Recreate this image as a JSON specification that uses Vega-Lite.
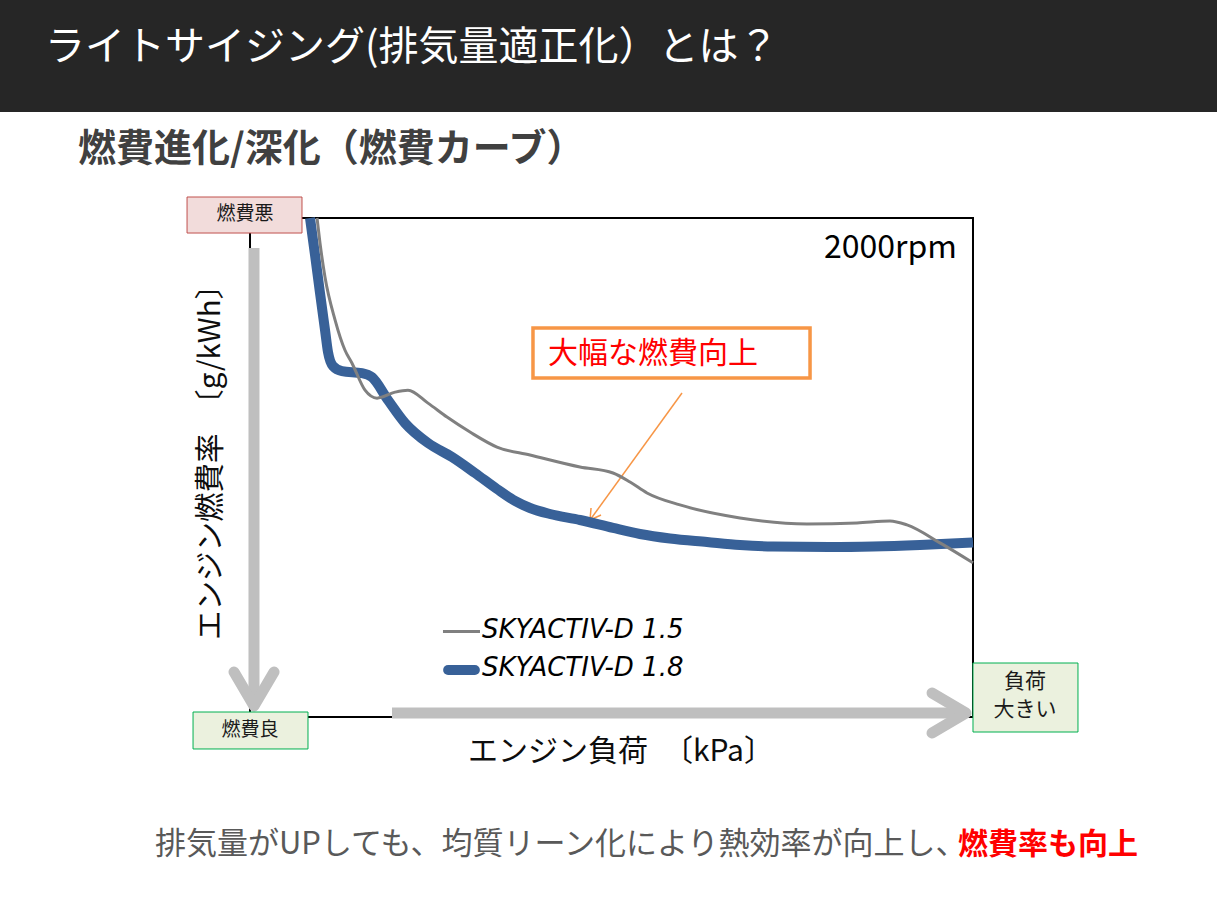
{
  "$schema": "https://vega.github.io/schema/vega-lite/v6.json",
  "width": 1217,
  "height": 912,
  "autosize": {"type": "fit", "contains": "padding"},
  "padding": 0,
  "background": "#ffffff",
  "config": {"view": {"stroke": null}, "font": "Noto Sans CJK JP"},
  "datasets": {
    "curves": [
      {"series": "SKYACTIV-D 1.8", "load": 8.30, "bsfc": 100.0},
      {"series": "SKYACTIV-D 1.8", "load": 8.99, "bsfc": 92.6},
      {"series": "SKYACTIV-D 1.8", "load": 9.68, "bsfc": 85.0},
      {"series": "SKYACTIV-D 1.8", "load": 10.37, "bsfc": 77.6},
      {"series": "SKYACTIV-D 1.8", "load": 10.79, "bsfc": 73.1},
      {"series": "SKYACTIV-D 1.8", "load": 11.48, "bsfc": 70.3},
      {"series": "SKYACTIV-D 1.8", "load": 12.72, "bsfc": 69.3},
      {"series": "SKYACTIV-D 1.8", "load": 15.49, "bsfc": 68.9},
      {"series": "SKYACTIV-D 1.8", "load": 16.87, "bsfc": 68.1},
      {"series": "SKYACTIV-D 1.8", "load": 19.09, "bsfc": 63.5},
      {"series": "SKYACTIV-D 1.8", "load": 21.44, "bsfc": 58.9},
      {"series": "SKYACTIV-D 1.8", "load": 24.62, "bsfc": 54.9},
      {"series": "SKYACTIV-D 1.8", "load": 27.94, "bsfc": 52.1},
      {"series": "SKYACTIV-D 1.8", "load": 31.12, "bsfc": 48.9},
      {"series": "SKYACTIV-D 1.8", "load": 34.16, "bsfc": 45.69},
      {"series": "SKYACTIV-D 1.8", "load": 36.65, "bsfc": 43.29},
      {"series": "SKYACTIV-D 1.8", "load": 38.73, "bsfc": 41.88},
      {"series": "SKYACTIV-D 1.8", "load": 41.49, "bsfc": 40.68},
      {"series": "SKYACTIV-D 1.8", "load": 45.64, "bsfc": 39.48},
      {"series": "SKYACTIV-D 1.8", "load": 50.21, "bsfc": 37.88},
      {"series": "SKYACTIV-D 1.8", "load": 53.94, "bsfc": 36.67},
      {"series": "SKYACTIV-D 1.8", "load": 58.09, "bsfc": 35.77},
      {"series": "SKYACTIV-D 1.8", "load": 63.21, "bsfc": 35.07},
      {"series": "SKYACTIV-D 1.8", "load": 67.77, "bsfc": 34.47},
      {"series": "SKYACTIV-D 1.8", "load": 72.34, "bsfc": 34.17},
      {"series": "SKYACTIV-D 1.8", "load": 80.22, "bsfc": 34.07},
      {"series": "SKYACTIV-D 1.8", "load": 86.17, "bsfc": 34.17},
      {"series": "SKYACTIV-D 1.8", "load": 92.67, "bsfc": 34.47},
      {"series": "SKYACTIV-D 1.8", "load": 100.0, "bsfc": 34.97},
      {"series": "SKYACTIV-D 1.5", "load": 9.27, "bsfc": 100.0},
      {"series": "SKYACTIV-D 1.5", "load": 9.68, "bsfc": 95.0},
      {"series": "SKYACTIV-D 1.5", "load": 10.37, "bsfc": 88.2},
      {"series": "SKYACTIV-D 1.5", "load": 11.76, "bsfc": 79.6},
      {"series": "SKYACTIV-D 1.5", "load": 13.14, "bsfc": 73.5},
      {"series": "SKYACTIV-D 1.5", "load": 14.11, "bsfc": 70.9},
      {"series": "SKYACTIV-D 1.5", "load": 15.91, "bsfc": 65.5},
      {"series": "SKYACTIV-D 1.5", "load": 17.57, "bsfc": 63.9},
      {"series": "SKYACTIV-D 1.5", "load": 20.06, "bsfc": 65.1},
      {"series": "SKYACTIV-D 1.5", "load": 21.85, "bsfc": 65.5},
      {"series": "SKYACTIV-D 1.5", "load": 24.62, "bsfc": 62.9},
      {"series": "SKYACTIV-D 1.5", "load": 27.25, "bsfc": 60.1},
      {"series": "SKYACTIV-D 1.5", "load": 30.43, "bsfc": 57.1},
      {"series": "SKYACTIV-D 1.5", "load": 34.16, "bsfc": 54.1},
      {"series": "SKYACTIV-D 1.5", "load": 38.73, "bsfc": 52.5},
      {"series": "SKYACTIV-D 1.5", "load": 45.64, "bsfc": 50.1},
      {"series": "SKYACTIV-D 1.5", "load": 50.21, "bsfc": 48.9},
      {"series": "SKYACTIV-D 1.5", "load": 52.56, "bsfc": 47.1},
      {"series": "SKYACTIV-D 1.5", "load": 54.91, "bsfc": 44.9},
      {"series": "SKYACTIV-D 1.5", "load": 59.47, "bsfc": 42.5},
      {"series": "SKYACTIV-D 1.5", "load": 67.77, "bsfc": 39.9},
      {"series": "SKYACTIV-D 1.5", "load": 77.04, "bsfc": 38.7},
      {"series": "SKYACTIV-D 1.5", "load": 83.96, "bsfc": 38.9},
      {"series": "SKYACTIV-D 1.5", "load": 88.52, "bsfc": 39.3},
      {"series": "SKYACTIV-D 1.5", "load": 90.87, "bsfc": 38.5},
      {"series": "SKYACTIV-D 1.5", "load": 95.44, "bsfc": 34.9},
      {"series": "SKYACTIV-D 1.5", "load": 100.0, "bsfc": 30.9}
    ]
  },
  "layer": [
    {
      "data": {"values": [{"x": -34.58, "x2": 133.75, "y": 121.24, "y2": 143.69}]},
      "mark": {"type": "rect", "color": "#262626"},
      "encoding": {
        "x": {"field": "x", "type": "quantitative", "scale": {"domain": [-34.58, 133.75], "nice": false, "zero": false}, "axis": null},
        "x2": {"field": "x2"},
        "y": {"field": "y", "type": "quantitative", "scale": {"domain": [-39.08, 143.69], "nice": false, "zero": false}, "axis": null},
        "y2": {"field": "y2"}
      }
    },
    {
      "data": {"values": [{"x": -28.35, "y": 134.07, "label": "ライトサイジング(排気量適正化）とは？"}]},
      "mark": {"type": "text", "color": "#ffffff", "fontSize": 40, "align": "left", "baseline": "middle"},
      "encoding": {
        "x": {"field": "x", "type": "quantitative", "scale": {"domain": [-34.58, 133.75], "nice": false, "zero": false}, "axis": null},
        "y": {"field": "y", "type": "quantitative", "scale": {"domain": [-39.08, 143.69], "nice": false, "zero": false}, "axis": null},
        "text": {"field": "label"}
      }
    },
    {
      "data": {"values": [{"x": -23.79, "y": 113.63, "label": "燃費進化/深化（燃費カーブ）"}]},
      "mark": {"type": "text", "color": "#404040", "fontSize": 38, "fontWeight": "bold", "align": "left", "baseline": "middle"},
      "encoding": {
        "x": {"field": "x", "type": "quantitative", "axis": null},
        "y": {"field": "y", "type": "quantitative", "axis": null},
        "text": {"field": "label"}
      }
    },
    {
      "data": {"values": [{"x": 0, "x2": 100, "y": 0, "y2": 100}]},
      "mark": {"type": "rect", "fillOpacity": 0, "stroke": "#000000", "strokeWidth": 2},
      "encoding": {
        "x": {"field": "x", "type": "quantitative", "axis": null},
        "x2": {"field": "x2"},
        "y": {"field": "y", "type": "quantitative", "axis": null},
        "y2": {"field": "y2"}
      }
    },
    {
      "data": {"values": [
        {"seg": "v", "i": 0, "x": 0.55, "y": 93.99},
        {"seg": "v", "i": 1, "x": 0.55, "y": 2.61},
        {"seg": "h", "i": 0, "x": 19.64, "y": 0.80},
        {"seg": "h", "i": 1, "x": 98.62, "y": 0.80}
      ]},
      "mark": {"type": "line", "color": "#BFBFBF", "strokeWidth": 11, "strokeCap": "butt"},
      "encoding": {
        "x": {"field": "x", "type": "quantitative", "axis": null},
        "y": {"field": "y", "type": "quantitative", "axis": null},
        "detail": {"field": "seg"},
        "order": {"field": "i"}
      }
    },
    {
      "data": {"values": [
        {"seg": "vc", "i": 0, "x": -2.21, "y": 9.02},
        {"seg": "vc", "i": 1, "x": 0.55, "y": 2.20},
        {"seg": "vc", "i": 2, "x": 3.32, "y": 9.02},
        {"seg": "hc", "i": 0, "x": 94.33, "y": 4.81},
        {"seg": "hc", "i": 1, "x": 99.03, "y": 0.80},
        {"seg": "hc", "i": 2, "x": 94.33, "y": -3.21}
      ]},
      "mark": {"type": "line", "color": "#BFBFBF", "strokeWidth": 11, "strokeCap": "round", "strokeJoin": "round"},
      "encoding": {
        "x": {"field": "x", "type": "quantitative", "axis": null},
        "y": {"field": "y", "type": "quantitative", "axis": null},
        "detail": {"field": "seg"},
        "order": {"field": "i"}
      }
    },
    {
      "data": {"values": [{"x": -8.71, "x2": 7.19, "y": 96.99, "y2": 104.21}]},
      "mark": {"type": "rect", "fill": "#F2DCDB", "stroke": "#C0504D", "strokeWidth": 1},
      "encoding": {
        "x": {"field": "x", "type": "quantitative", "axis": null},
        "x2": {"field": "x2"},
        "y": {"field": "y", "type": "quantitative", "axis": null},
        "y2": {"field": "y2"}
      }
    },
    {
      "data": {"values": [
        {"x": -7.88, "x2": 8.02, "y": -6.41, "y2": 1.00},
        {"x": 100.0, "x2": 114.52, "y": -3.01, "y2": 10.82}
      ]},
      "mark": {"type": "rect", "fill": "#EBF1DE", "stroke": "#00B050", "strokeWidth": 1},
      "encoding": {
        "x": {"field": "x", "type": "quantitative", "axis": null},
        "x2": {"field": "x2"},
        "y": {"field": "y", "type": "quantitative", "axis": null},
        "y2": {"field": "y2"}
      }
    },
    {
      "data": {"values": [
        {"x": -0.69, "y": 100.8, "label": "燃費悪"},
        {"x": 0.0, "y": -2.61, "label": "燃費良"}
      ]},
      "mark": {"type": "text", "color": "#1a1a1a", "fontSize": 19, "align": "center", "baseline": "middle"},
      "encoding": {
        "x": {"field": "x", "type": "quantitative", "axis": null},
        "y": {"field": "y", "type": "quantitative", "axis": null},
        "text": {"field": "label"}
      }
    },
    {
      "data": {"values": [
        {"x": 107.19, "y": 7.01, "label": "負荷"},
        {"x": 107.19, "y": 1.40, "label": "大きい"}
      ]},
      "mark": {"type": "text", "color": "#1a1a1a", "fontSize": 21, "align": "center", "baseline": "middle"},
      "encoding": {
        "x": {"field": "x", "type": "quantitative", "axis": null},
        "y": {"field": "y", "type": "quantitative", "axis": null},
        "text": {"field": "label"}
      }
    },
    {
      "data": {"values": [{"x": 39.14, "x2": 77.46, "y": 67.94, "y2": 77.96}]},
      "mark": {"type": "rect", "fill": "#ffffff", "stroke": "#F79646", "strokeWidth": 3.5},
      "encoding": {
        "x": {"field": "x", "type": "quantitative", "axis": null},
        "x2": {"field": "x2"},
        "y": {"field": "y", "type": "quantitative", "axis": null},
        "y2": {"field": "y2"}
      }
    },
    {
      "data": {"values": [{"x": 41.22, "y": 72.75, "label": "大幅な燃費向上"}]},
      "mark": {"type": "text", "color": "#FF0000", "fontSize": 30, "align": "left", "baseline": "middle"},
      "encoding": {
        "x": {"field": "x", "type": "quantitative", "axis": null},
        "y": {"field": "y", "type": "quantitative", "axis": null},
        "text": {"field": "label"}
      }
    },
    {
      "data": {"values": [
        {"seg": "shaft", "i": 0, "x": 59.75, "y": 64.93},
        {"seg": "shaft", "i": 1, "x": 47.03, "y": 39.48},
        {"seg": "head", "i": 0, "x": 48.55, "y": 40.48},
        {"seg": "head", "i": 1, "x": 47.03, "y": 39.48},
        {"seg": "head", "i": 2, "x": 47.17, "y": 41.88}
      ]},
      "mark": {"type": "line", "color": "#F79646", "strokeWidth": 1.5},
      "encoding": {
        "x": {"field": "x", "type": "quantitative", "axis": null},
        "y": {"field": "y", "type": "quantitative", "axis": null},
        "detail": {"field": "seg"},
        "order": {"field": "i"}
      }
    },
    {
      "data": {"name": "curves"},
      "transform": [{"filter": "datum.series === 'SKYACTIV-D 1.8'"}],
      "mark": {"type": "line", "color": "#386198", "strokeWidth": 10, "interpolate": "monotone", "strokeCap": "butt"},
      "encoding": {
        "x": {"field": "load", "type": "quantitative", "axis": null},
        "y": {"field": "bsfc", "type": "quantitative", "axis": null}
      }
    },
    {
      "data": {"name": "curves"},
      "transform": [{"filter": "datum.series === 'SKYACTIV-D 1.5'"}],
      "mark": {"type": "line", "color": "#808080", "strokeWidth": 3, "interpolate": "monotone"},
      "encoding": {
        "x": {"field": "load", "type": "quantitative", "axis": null},
        "y": {"field": "bsfc", "type": "quantitative", "axis": null}
      }
    },
    {
      "data": {"values": [
        {"series": "SKYACTIV-D 1.5", "i": 0, "x": 26.69, "y": 17.13},
        {"series": "SKYACTIV-D 1.5", "i": 1, "x": 31.81, "y": 17.13}
      ]},
      "mark": {"type": "line", "color": "#808080", "strokeWidth": 3},
      "encoding": {
        "x": {"field": "x", "type": "quantitative", "axis": null},
        "y": {"field": "y", "type": "quantitative", "axis": null},
        "order": {"field": "i"}
      }
    },
    {
      "data": {"values": [
        {"series": "SKYACTIV-D 1.8", "i": 0, "x": 27.4, "y": 9.42},
        {"series": "SKYACTIV-D 1.8", "i": 1, "x": 31.1, "y": 9.42}
      ]},
      "mark": {"type": "line", "color": "#386198", "strokeWidth": 10, "strokeCap": "round"},
      "encoding": {
        "x": {"field": "x", "type": "quantitative", "axis": null},
        "y": {"field": "y", "type": "quantitative", "axis": null},
        "order": {"field": "i"}
      }
    },
    {
      "data": {"values": [
        {"x": 32.09, "y": 17.43, "label": "SKYACTIV-D 1.5"},
        {"x": 32.09, "y": 9.82, "label": "SKYACTIV-D 1.8"}
      ]},
      "mark": {"type": "text", "font": "DejaVu Sans", "fontStyle": "italic", "fontSize": 26, "color": "#000000", "align": "left", "baseline": "middle"},
      "encoding": {
        "x": {"field": "x", "type": "quantitative", "axis": null},
        "y": {"field": "y", "type": "quantitative", "axis": null},
        "text": {"field": "label"}
      }
    },
    {
      "data": {"values": [{"x": -5.39, "y": 52.51, "label": "エンジン燃費率　〔g/kWh〕"}]},
      "mark": {"type": "text", "color": "#0d0d0d", "fontSize": 29.5, "angle": 270, "align": "center", "baseline": "middle"},
      "encoding": {
        "x": {"field": "x", "type": "quantitative", "axis": null},
        "y": {"field": "y", "type": "quantitative", "axis": null},
        "text": {"field": "label"}
      }
    },
    {
      "data": {"values": [{"x": 51.31, "y": -7.01, "label": "エンジン負荷　〔kPa〕"}]},
      "mark": {"type": "text", "color": "#0d0d0d", "fontSize": 30, "align": "center", "baseline": "middle"},
      "encoding": {
        "x": {"field": "x", "type": "quantitative", "axis": null},
        "y": {"field": "y", "type": "quantitative", "axis": null},
        "text": {"field": "label"}
      }
    },
    {
      "data": {"values": [{"x": 97.79, "y": 93.99, "label": "2000rpm"}]},
      "mark": {"type": "text", "color": "#000000", "fontSize": 32, "align": "right", "baseline": "middle"},
      "encoding": {
        "x": {"field": "x", "type": "quantitative", "axis": null},
        "y": {"field": "y", "type": "quantitative", "axis": null},
        "text": {"field": "label"}
      }
    },
    {
      "data": {"values": [{"x": -13.14, "y": -25.65, "label": "排気量がUPしても、均質リーン化により熱効率が向上し、"}]},
      "mark": {"type": "text", "color": "#595959", "fontSize": 31, "align": "left", "baseline": "middle"},
      "encoding": {
        "x": {"field": "x", "type": "quantitative", "axis": null},
        "y": {"field": "y", "type": "quantitative", "axis": null},
        "text": {"field": "label"}
      }
    },
    {
      "data": {"values": [{"x": 122.82, "y": -25.65, "label": "燃費率も向上"}]},
      "mark": {"type": "text", "color": "#FF0000", "fontSize": 30, "fontWeight": "bold", "align": "right", "baseline": "middle"},
      "encoding": {
        "x": {"field": "x", "type": "quantitative", "axis": null},
        "y": {"field": "y", "type": "quantitative", "axis": null},
        "text": {"field": "label"}
      }
    }
  ]
}
